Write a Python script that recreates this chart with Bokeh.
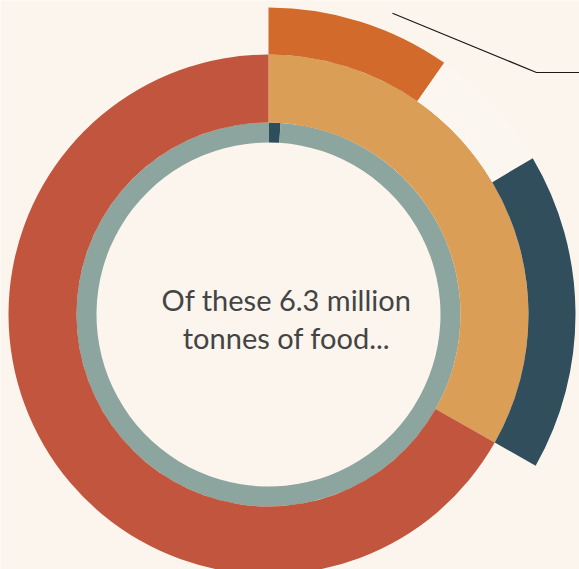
import numpy as np
from bokeh.plotting import figure
from bokeh.models import Range1d
from bokeh.core.properties import value
from bokeh.embed import file_html
from bokeh.resources import INLINE

# ---- data (shares of the 6.3 million tonnes, percent) ----
inner_labels = ["small share", "rest"]
inner_values = [1.0, 99.0]
inner_colors = ["#2F4E5B", "#8CA59F"]

middle_labels = ["share A", "share B"]
middle_values = [33.2, 66.8]
middle_colors = ["#DA9E57", "#C2553D"]

outer_labels = ["part 1", "part 2", "part 3"]
outer_values = [9.7, 6.8, 16.7]
outer_colors = ["#D16A2A", "#FBF6EF", "#304E5B"]

title_lines = ["Of these 6.3 million", "tonnes of food..."]

W, H = 579, 569
BG = "#FBF5EE"
cx, cy = 268, H - 314

p = figure(width=W, height=H, output_backend="svg", toolbar_location=None,
           x_range=Range1d(0, W), y_range=Range1d(0, H), min_border=0,
           background_fill_color=BG, border_fill_color=BG)
p.axis.visible = False
p.grid.visible = False
p.outline_line_color = None


def ring(values, colors, r_in, r_out):
    v = np.array(values, dtype=float)
    cum = np.concatenate([[0], np.cumsum(v)]) / 100.0
    start = np.pi / 2 - cum[:-1] * 2 * np.pi
    end = np.pi / 2 - cum[1:] * 2 * np.pi
    p.annular_wedge(x=[cx] * len(v), y=[cy] * len(v), inner_radius=r_in, outer_radius=r_out,
                    start_angle=list(start), end_angle=list(end), direction="clock",
                    fill_color=colors, line_color=None)


ring(inner_values, inner_colors, 172, 192)
ring(middle_values, middle_colors, 192, 260)
ring(outer_values, outer_colors, 260, 307)

# annotation leader line
p.line(x=[392, 536, 579], y=[H - 12.7, H - 72, H - 72], line_color="#1a1a1a", line_width=1.2)

p.text(x=[286, 286], y=[H - 299, H - 337], text=title_lines,
       text_align="center", text_baseline="alphabetic",
       text_font=value("Lato"), text_font_size="29px", text_color="#444444")

open("out.html", "w").write(file_html(p, INLINE))
